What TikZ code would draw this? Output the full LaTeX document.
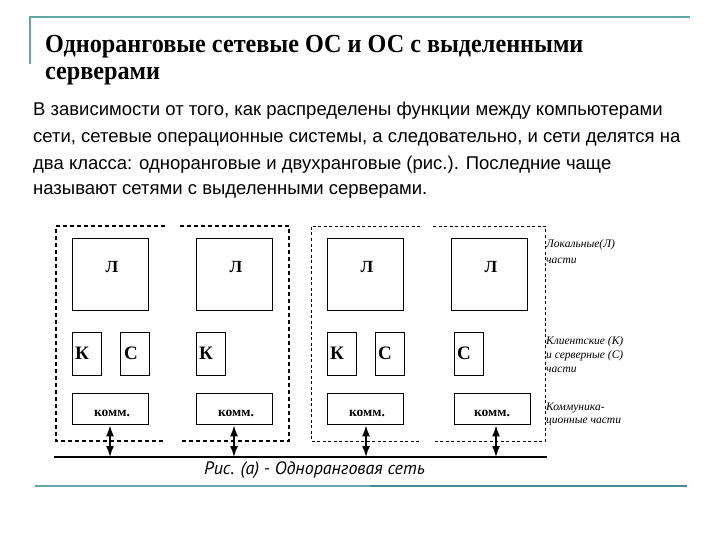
\documentclass[tikz,border=0pt]{standalone}
\usepackage{fontspec}
\setmainfont{Liberation Serif}
\newfontfamily\bodyfont{Liberation Sans}
\newfontfamily\capfont{PT Sans}
\usetikzlibrary{arrows.meta}
\definecolor{teal1}{RGB}{98,166,170}
\definecolor{teal2}{RGB}{70,140,145}
\tikzset{
  box/.style={draw, line width=1.4pt, inner sep=0pt, anchor=north west},
  bigbox/.style={box, minimum width=76pt, minimum height=72pt},
  smallbox/.style={box, minimum width=29pt, minimum height=43pt},
  commbox/.style={box, minimum width=76pt, minimum height=31pt},
  lbl/.style={font=\fontsize{17}{17}\selectfont\bfseries, inner sep=0pt},
  kclbl/.style={font=\fontsize{19}{19}\selectfont\bfseries, inner sep=0pt, anchor=west},
  commlbl/.style={font=\fontsize{13.5}{13.5}\selectfont\bfseries, inner sep=0pt},
  side/.style={font=\fontsize{11.5}{11.5}\selectfont\itshape, inner sep=0pt, anchor=west},
  dblarrow/.style={line width=1.5pt, {Latex[length=11pt,width=8pt]}-{Latex[length=11pt,width=8pt]}},
  frameA/.style={line width=1.3pt, dash pattern=on 4pt off 3pt},
  frameB/.style={line width=0.9pt, dash pattern=on 3pt off 2.5pt},
  bodytxt/.style={font=\bodyfont\fontsize{18.5}{18.5}\selectfont, inner sep=0pt, anchor=base west},
  titletxt/.style={inner sep=0pt, anchor=base west, font=\fontsize{26}{26}\selectfont\bfseries},
}
\begin{document}
\begin{tikzpicture}[x=1pt,y=-1pt]
\useasboundingbox (0,0) rectangle (720,540);
% decorative teal rules
\draw[teal1, line width=2.2pt] (30,64) -- (30,17) -- (690,17);
\draw[teal1, line width=2.5pt] (35,486) -- (370,486);
\draw[teal2, line width=2.5pt] (370,486) -- (687,486);
% title
\node[titletxt] (t1) at (45,53) {\scalebox{0.93}[1]{Одноранговые сетевые ОС и ОС с выделенными}};
\node[titletxt] (t2) at (45,80) {\scalebox{0.93}[1]{серверами}};
% body
\node[bodytxt] (b1) at (33,116) {В зависимости от того, как распределены функции между компьютерами};
\node[bodytxt] (b2) at (33,143) {сети, сетевые операционные системы, а следовательно, и сети делятся на};
\node[bodytxt] (b3) at (33,170) {два класса: одноранговые и двухранговые (рис.). Последние чаще};
\node[bodytxt] (b4) at (33,195) {называют сетями с выделенными серверами.};
% dashed frames
\draw[frameA] (165,226) -- (56,226) -- (56,441) -- (165,441);
\draw[frameA] (180,226) -- (289,226) -- (289,441) -- (180,441);
\draw[frameB] (420,226) -- (311,226) -- (311,441) -- (420,441);
\draw[frameB] (433,226) -- (545,226) -- (545,441) -- (433,441);
% local parts
\node[bigbox] (L1) at (72,238) {};
\node[bigbox] (L2) at (196,238) {};
\node[bigbox] (L3) at (327,238) {};
\node[bigbox] (L4) at (451,238) {};
\node[lbl] (L1t) at (112,267) {Л};
\node[lbl] (L2t) at (236,267) {Л};
\node[lbl] (L3t) at (367,267) {Л};
\node[lbl] (L4t) at (491,267) {Л};
% client / server parts
\node[smallbox] (K1) at (72,332) {};
\node[smallbox] (C1) at (120,332) {};
\node[smallbox] (K2) at (196,332) {};
\node[smallbox] (K3) at (327,332) {};
\node[smallbox] (C3) at (375,332) {};
\node[smallbox] (C4) at (454,332) {};
\node[kclbl] (K1t) at (75,353) {К};
\node[kclbl] (C1t) at (124,353) {С};
\node[kclbl] (K2t) at (199,353) {К};
\node[kclbl] (K3t) at (330,353) {К};
\node[kclbl] (C3t) at (378,353) {С};
\node[kclbl] (C4t) at (457,353) {С};
% communication parts
\node[commbox] (M1) at (72,393) {};
\node[commbox] (M2) at (196,393) {};
\node[commbox] (M3) at (327,393) {};
\node[commbox] (M4) at (454,393) {};
\node[commlbl] (M1t) at (112,413) {комм.};
\node[commlbl] (M2t) at (236,413) {комм.};
\node[commlbl] (M3t) at (367,413) {комм.};
\node[commlbl] (M4t) at (492,413) {комм.};
% bus
\coordinate (busL) at (54,457);
\coordinate (busR) at (547,457);
\draw[line width=1.2pt] (busL) -- (busR);
\coordinate (p1) at (110,457);
\coordinate (p2) at (234,457);
\coordinate (p3) at (366,457);
\coordinate (p4) at (496,457);
\draw[dblarrow] (M1.south -| p1) -- (p1);
\draw[dblarrow] (M2.south -| p2) -- (p2);
\draw[dblarrow] (M3.south -| p3) -- (p3);
\draw[dblarrow] (M4.south -| p4) -- (p4);
% side labels
\node[side] (s1) at (546,245) {Локальные(Л)};
\node[side] (s2) at (546,261) {части};
\node[side] (s3) at (546,342) {Клиентские (К)};
\node[side] (s4) at (546,356) {и серверные (С)};
\node[side] (s5) at (546,370) {части};
\node[side] (s6) at (546,408) {Коммуника-};
\node[side] (s7) at (546,422) {ционные части};
% caption
\node[inner sep=0pt, anchor=base west, font=\capfont\itshape\fontsize{18}{18}\selectfont] (cap) at (204,474) {Рис. (а) - Одноранговая сеть};
\end{tikzpicture}
\end{document}
